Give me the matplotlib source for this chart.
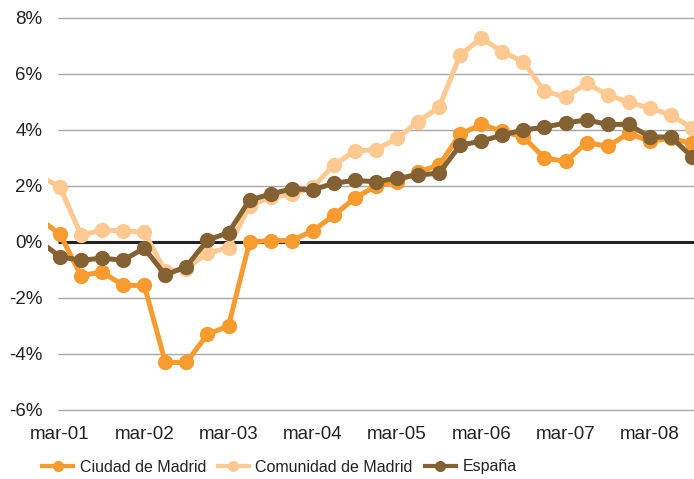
import numpy as np
import matplotlib
matplotlib.use('Agg')
import matplotlib.pyplot as plt
from matplotlib.lines import Line2D

# trimestres desde dic-00 hasta sep-08 (indice -1 .. 30)
quarters = np.arange(-1, 31)
tick_pos = [0, 4, 8, 12, 16, 20, 24, 28]
tick_labels = ['mar-01', 'mar-02', 'mar-03', 'mar-04', 'mar-05', 'mar-06', 'mar-07', 'mar-08']

ciudad = [0.84, 0.28, -1.2, -1.07, -1.55, -1.55, -4.3, -4.3, -3.3, -3.0, 0.0, 0.05, 0.05,
          0.4, 0.95, 1.57, 2.0, 2.15, 2.5, 2.75, 3.85, 4.2, 3.95, 3.75, 3.0, 2.88, 3.55,
          3.42, 3.88, 3.6, 3.7, 3.52]
comunidad = [2.38, 1.96, 0.25, 0.42, 0.4, 0.35, -1.05, -0.95, -0.4, -0.2, 1.3, 1.6, 1.7,
             1.95, 2.75, 3.25, 3.3, 3.7, 4.3, 4.82, 6.68, 7.28, 6.8, 6.43, 5.38, 5.18, 5.67,
             5.25, 5.0, 4.78, 4.54, 4.07]
espana = [0.05, -0.53, -0.65, -0.58, -0.65, -0.22, -1.18, -0.88, 0.07, 0.33, 1.5, 1.71, 1.9,
          1.86, 2.1, 2.2, 2.15, 2.28, 2.39, 2.46, 3.46, 3.6, 3.82, 4.0, 4.1, 4.25, 4.36,
          4.2, 4.2, 3.75, 3.75, 3.05]

names = ['Ciudad de Madrid', 'Comunidad de Madrid', 'España']
colors = ['#F79B2E', '#FEC991', '#836132']

plt.rcParams['font.family'] = ['Liberation Sans', 'DejaVu Sans']

fig = plt.figure(figsize=(6.94, 4.79), dpi=100)
W, H = 694, 479
ax = fig.add_axes([48 / W, 1 - 412 / H, 1 - 48 / W, (412 - 16) / H])

x_left = -0.57
x_right = 30.1
ax.set_xlim(x_left, x_right)
ax.set_ylim(-6 - 2 / 28, 8 + 2 / 28)

# lineas de rejilla (empiezan un poco antes de mar-01)
for v in [-6, -4, -2, 2, 4, 6, 8]:
    ax.hlines(v, -0.1, x_right, color='#a6a6a6', lw=1.0, zorder=0)
ax.hlines(0, -0.1, x_right, color='#222222', lw=2.2, zorder=1)

for serie, name, c in zip([ciudad, comunidad, espana], names, colors):
    ax.plot(quarters, serie, color=c, lw=3.6, marker='o', markersize=11,
            markeredgewidth=0, label=name, zorder=2)

ax.set_yticks([-6, -4, -2, 0, 2, 4, 6, 8])
ax.set_yticklabels(['-6%', '-4%', '-2%', '0%', '2%', '4%', '6%', '8%'])
ax.set_xticks(tick_pos)
ax.set_xticklabels(tick_labels)
ax.tick_params(axis='y', length=0, pad=4, labelsize=13.5, labelcolor='#222222')
ax.tick_params(axis='x', length=0, pad=10, labelsize=13.5, labelcolor='#222222')
for s in ax.spines.values():
    s.set_visible(False)

handles = [Line2D([], [], color=c, lw=3, marker='o', markersize=8, markeredgewidth=0)
           for c in colors]
fig.legend(handles, names, loc='center left', bbox_to_anchor=(42 / W, 1 - 467 / H),
           ncol=3, frameon=False, fontsize=11.5, handlelength=1.95, handletextpad=0.4,
           columnspacing=0.75, borderpad=0, borderaxespad=0, labelcolor='#222222')

plt.savefig('out.png', dpi=100)
